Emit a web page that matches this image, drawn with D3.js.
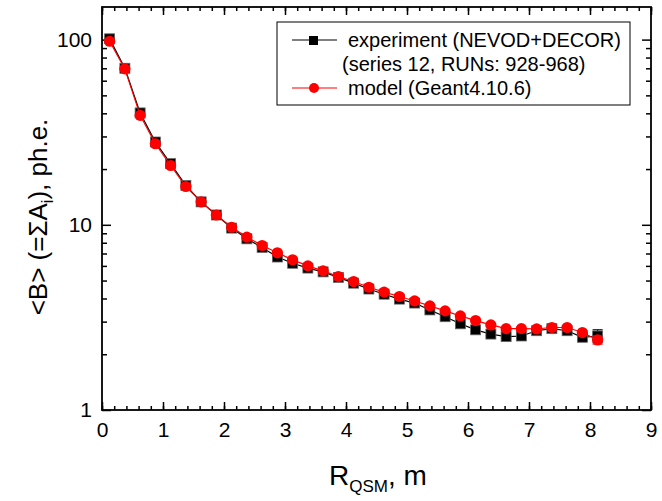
<!DOCTYPE html>
<html>
<head>
<meta charset="utf-8">
<script src="https://cdn.jsdelivr.net/npm/d3@7"></script>
<style>
  body { margin: 0; background: #fff; }
  text { font-family: Arial, "Liberation Sans", sans-serif; }
</style>
</head>
<body>
<div id="chart"></div>
<script>
// R_QSM bin centres (m)
const rValues = [0.125, 0.375, 0.625, 0.875, 1.125, 1.375, 1.625, 1.875, 2.125, 2.375, 2.625,
  2.875, 3.125, 3.375, 3.625, 3.875, 4.125, 4.375, 4.625, 4.875, 5.125, 5.375, 5.625,
  5.875, 6.125, 6.375, 6.625, 6.875, 7.125, 7.375, 7.625, 7.875, 8.125];

// experiment (NEVOD+DECOR)
const expValues = [101, 70, 40.2, 28, 21.4, 16.3, 13.3, 11.3, 9.6, 8.4, 7.55, 6.7, 6.2,
  5.84, 5.57, 5.2, 4.84, 4.5, 4.22, 3.97, 3.78, 3.47, 3.19, 2.92, 2.71, 2.57, 2.49,
  2.51, 2.68, 2.75, 2.68, 2.47, 2.51];
const expErr = [0.5, 0.4, 0.3, 0.2, 0.15, 0.1, 0.08, 0.07, 0.06, 0.05, 0.05, 0.05, 0.05,
  0.05, 0.05, 0.05, 0.05, 0.05, 0.05, 0.05, 0.05, 0.05, 0.05, 0.05, 0.05, 0.05, 0.05,
  0.05, 0.06, 0.06, 0.07, 0.08, 0.2];

// model (Geant4.10.6)
const modelValues = [98, 69.5, 39, 27.4, 20.9, 16.1, 13.3, 11.3, 9.7, 8.58, 7.73, 7.06,
  6.47, 6.0, 5.64, 5.26, 4.94, 4.6, 4.33, 4.1, 3.88, 3.65, 3.43, 3.22, 3.04, 2.88, 2.75,
  2.75, 2.74, 2.79, 2.79, 2.62, 2.39];
const modelErr = [0.3, 0.2, 0.15, 0.1, 0.08, 0.06, 0.05, 0.04, 0.04, 0.03, 0.03, 0.03,
  0.03, 0.03, 0.03, 0.03, 0.03, 0.03, 0.03, 0.03, 0.03, 0.03, 0.03, 0.03, 0.03, 0.03,
  0.03, 0.03, 0.04, 0.04, 0.05, 0.06, 0.12];

const xTicks = [0, 1, 2, 3, 4, 5, 6, 7, 8, 9];
const yTicks = [1, 10, 100];
const yMinorTicks = [2, 3, 4, 5, 6, 7, 8, 9, 20, 30, 40, 50, 60, 70, 80, 90];

const legendLabels = ["experiment (NEVOD+DECOR)", "(series 12, RUNs: 928-968)", "model (Geant4.10.6)"];

const width = 662, height = 501;
const plot = { left: 102, right: 651, top: 7, bottom: 410 };

const svg = d3.select("#chart").append("svg")
  .attr("width", width)
  .attr("height", height);

const x = d3.scaleLinear().domain([0, 9]).range([plot.left, plot.right]);
const y = d3.scaleLog().domain([1, 150]).range([plot.bottom, plot.top]);

const xMinor = d3.range(0, 9.01, 0.2).map(v => +v.toFixed(1));

// axes, ticks pointing inward on all four sides
function drawAxis(axis, transform, cls) {
  const g = svg.append("g").attr("class", cls).attr("transform", transform).call(axis);
  g.select(".domain").remove();
  g.selectAll(".tick line").attr("stroke", "#000").attr("stroke-width", 1.5);
  g.selectAll("text").attr("fill", "#000").attr("font-size", 21);
  return g;
}

drawAxis(d3.axisBottom(x).tickValues(xTicks).tickSize(-8).tickPadding(12).tickFormat(d3.format("d")),
  `translate(0,${plot.bottom})`, "x-axis");
drawAxis(d3.axisBottom(x).tickValues(xMinor).tickSize(-4).tickFormat(""),
  `translate(0,${plot.bottom})`, "x-minor");
drawAxis(d3.axisTop(x).tickValues(xTicks).tickSize(-8).tickFormat(""),
  `translate(0,${plot.top})`, "x-top");
drawAxis(d3.axisTop(x).tickValues(xMinor).tickSize(-4).tickFormat(""),
  `translate(0,${plot.top})`, "x-top-minor");

drawAxis(d3.axisLeft(y).tickValues(yTicks).tickSize(-9).tickPadding(10).tickFormat(d3.format("d")),
  `translate(${plot.left},0)`, "y-axis");
drawAxis(d3.axisLeft(y).tickValues(yMinorTicks).tickSize(-5).tickFormat(""),
  `translate(${plot.left},0)`, "y-minor");
drawAxis(d3.axisRight(y).tickValues(yTicks).tickSize(-9).tickFormat(""),
  `translate(${plot.right},0)`, "y-right");
drawAxis(d3.axisRight(y).tickValues(yMinorTicks).tickSize(-5).tickFormat(""),
  `translate(${plot.right},0)`, "y-right-minor");

// frame
svg.append("rect")
  .attr("x", plot.left).attr("y", plot.top)
  .attr("width", plot.right - plot.left).attr("height", plot.bottom - plot.top)
  .attr("fill", "none").attr("stroke", "#000").attr("stroke-width", 1.8);

// series
const series = [
  { name: "exp", values: expValues, err: expErr, color: "#000", shape: "square" },
  { name: "model", values: modelValues, err: modelErr, color: "#ff0000", shape: "circle" }
];

const line = d3.line().x(d => x(d[0])).y(d => y(d[1]));

series.forEach(s => {
  const pts = rValues.map((r, i) => [r, s.values[i], s.err[i]]);
  const g = svg.append("g").attr("class", "series-" + s.name);

  // error bars
  const eb = g.selectAll(".err").data(pts).enter().append("g").attr("class", "err")
    .attr("stroke", s.color).attr("stroke-width", 1.2);
  eb.append("line")
    .attr("x1", d => x(d[0])).attr("x2", d => x(d[0]))
    .attr("y1", d => y(d[1] - d[2])).attr("y2", d => y(d[1] + d[2]));
  eb.append("line")
    .attr("x1", d => x(d[0]) - 5).attr("x2", d => x(d[0]) + 5)
    .attr("y1", d => y(d[1] - d[2])).attr("y2", d => y(d[1] - d[2]));
  eb.append("line")
    .attr("x1", d => x(d[0]) - 5).attr("x2", d => x(d[0]) + 5)
    .attr("y1", d => y(d[1] + d[2])).attr("y2", d => y(d[1] + d[2]));

  g.append("path").datum(pts)
    .attr("d", line)
    .attr("fill", "none")
    .attr("stroke", s.color)
    .attr("stroke-width", 1.2);

  if (s.shape === "square") {
    g.selectAll(".pt").data(pts).enter().append("rect")
      .attr("x", d => x(d[0]) - 5).attr("y", d => y(d[1]) - 5)
      .attr("width", 10).attr("height", 10)
      .attr("fill", "#000").attr("stroke", "#666").attr("stroke-width", 0.8);
  } else {
    g.selectAll(".pt").data(pts).enter().append("circle")
      .attr("cx", d => x(d[0])).attr("cy", d => y(d[1]))
      .attr("r", 5.6)
      .attr("fill", "#ff0000");
  }
});

// legend
const legend = svg.append("g").attr("class", "legend");
legend.append("rect")
  .attr("x", 277).attr("y", 22).attr("width", 353).attr("height", 83)
  .attr("fill", "#fff").attr("stroke", "#000").attr("stroke-width", 1);

legend.append("line").attr("x1", 292).attr("x2", 337).attr("y1", 40).attr("y2", 40)
  .attr("stroke", "#000").attr("stroke-width", 1.2);
legend.append("rect").attr("x", 309).attr("y", 36).attr("width", 9).attr("height", 9).attr("fill", "#000");
legend.append("text").attr("x", 348).attr("y", 47).attr("font-size", 20).text(legendLabels[0]);
legend.append("text").attr("x", 342).attr("y", 71).attr("font-size", 20).text(legendLabels[1]);

legend.append("line").attr("x1", 292).attr("x2", 337).attr("y1", 88).attr("y2", 88)
  .attr("stroke", "#ff0000").attr("stroke-width", 1.2);
legend.append("circle").attr("cx", 314).attr("cy", 88).attr("r", 5).attr("fill", "#ff0000");
legend.append("text").attr("x", 348).attr("y", 95).attr("font-size", 20).text(legendLabels[2]);

// axis titles
const xt = svg.append("text")
  .attr("x", 378).attr("y", 485)
  .attr("text-anchor", "middle")
  .attr("font-size", 28);
xt.append("tspan").text("R");
xt.append("tspan").attr("font-size", 17).attr("dy", 7).text("QSM");
xt.append("tspan").attr("dy", -7).text(", m");

const yt = svg.append("text")
  .attr("transform", "translate(47,217) rotate(-90)")
  .attr("text-anchor", "middle")
  .attr("font-size", 26);
yt.append("tspan").text("<B> (=ΣA");
yt.append("tspan").attr("font-size", 16).attr("dy", 6).text("i");
yt.append("tspan").attr("dy", -6).text("), ph.e.");
</script>
</body>
</html>
